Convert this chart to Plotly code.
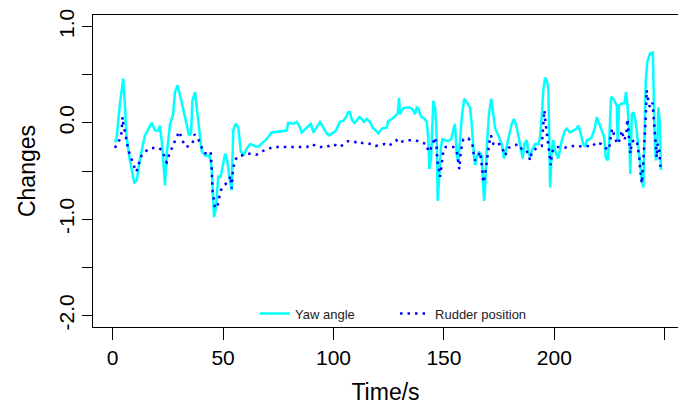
import plotly.graph_objects as go

# ---- data ----
time_yaw = [1.0, 1.6, 3.3, 4.8, 5.6, 6.3, 7.8, 9.8, 10.9, 12.4, 14.6, 16.1, 17.7, 19.2, 20.7, 21.4, 22.5, 23.7, 24.5,
            26.0, 27.4, 28.2, 29.4, 31.3, 33.5, 34.6, 35.5, 36.1, 37.3, 38.8, 40.3, 41.8, 43.8, 44.8, 45.6, 45.9,
            46.8, 47.8, 48.9, 49.8, 50.9, 51.9, 52.8, 53.9, 54.6, 55.8, 56.9, 58.0, 59.1, 60.7, 62.2, 64.4, 65.9,
            68.2, 69.7, 72.0, 78.8, 79.5, 81.8, 83.3, 84.5, 85.6, 86.6, 88.6, 89.7, 90.9, 92.1, 93.9, 95.4, 96.9,
            98.1, 99.6, 101.1, 102.9, 104.4, 105.7, 106.7, 107.5, 108.2, 109.4, 110.5, 111.7, 112.8, 113.8, 115.0,
            116.5, 117.8, 119.2, 120.3, 121.8, 124.1, 124.8, 126.4, 127.9, 129.1, 129.7, 130.1, 130.9, 131.6, 133.2,
            134.6, 136.1, 136.9, 137.7, 138.4, 139.2, 139.9, 141.4, 142.2, 142.9, 143.4, 144.2, 144.7, 145.2, 146.0,
            146.7, 147.2, 147.9, 148.7, 149.3, 150.5, 152.0, 153.2, 154.3, 155.0, 155.8, 156.5, 157.3, 158.1, 159.2,
            160.0, 160.8, 161.8, 162.6, 163.3, 164.1, 164.9, 165.9, 167.1, 167.6, 168.2, 168.6, 169.4, 170.4, 171.4,
            172.4, 173.1, 174.6, 176.2, 177.2, 178.4, 179.6, 180.7, 181.7, 183.0, 184.1, 185.2, 185.7, 186.4, 187.5,
            188.2, 189.0, 189.8, 191.3, 192.8, 193.5, 194.3, 195.0, 195.8, 196.6, 197.3, 197.7, 198.1, 198.8, 199.5,
            200.3, 201.8, 203.4, 204.8, 205.6, 207.1, 208.6, 210.1, 210.9, 211.6, 213.1, 213.9, 214.7, 215.4, 216.9,
            218.4, 219.2, 220.2, 221.5, 222.6, 223.3, 224.2, 224.8, 225.7, 226.7, 228.3, 228.7, 229.3, 230.5, 231.7,
            232.5, 233.2, 234.0, 234.4, 235.1, 235.8, 236.6, 237.3, 238.0, 238.8, 239.6, 240.3, 240.8, 241.4, 242.1,
            243.3, 244.6, 245.0, 245.3, 245.6, 246.0, 246.7, 247.1, 247.7, 248.0, 248.3]
yaw = [-0.17, -0.2, 0.2, 0.46, 0.16, -0.15, -0.39, -0.62, -0.6, -0.37, -0.13, -0.06, 0.0, -0.08, -0.08, -0.03, -0.25,
       -0.65, -0.32, -0.01, 0.09, 0.32, 0.39, 0.21, -0.01, -0.13, -0.11, 0.23, 0.32, 0.02, -0.29, -0.34, -0.34, -0.46,
       -0.81, -0.98, -0.88, -0.56, -0.56, -0.44, -0.32, -0.39, -0.56, -0.7, -0.08, -0.01, -0.05, -0.29, -0.34, -0.27,
       -0.22, -0.24, -0.25, -0.2, -0.17, -0.1, -0.08, 0.0, -0.01, 0.01, -0.03, -0.1, -0.08, -0.03, -0.01, -0.1, -0.05,
       0.01, -0.05, -0.11, -0.13, -0.1, -0.08, 0.01, 0.02, 0.06, 0.11, 0.11, 0.04, 0.0, 0.02, 0.06, 0.04, 0.01, 0.04,
       0.01, -0.05, -0.08, -0.11, -0.06, -0.05, 0.02, 0.04, 0.07, 0.1, 0.26, 0.09, 0.13, 0.15, 0.16, 0.16, 0.13, 0.09,
       0.16, 0.15, 0.09, 0.06, 0.04, 0.01, -0.15, -0.48, -0.36, 0.06, 0.23, 0.16, -0.11, -0.81, -0.53, -0.25, -0.17,
       -0.18, -0.19, -0.17, -0.08, -0.01, -0.32, -0.41, -0.18, 0.06, 0.25, 0.23, 0.2, 0.16, -0.01, -0.25, -0.44, -0.36,
       -0.3, -0.34, -0.6, -0.81, -0.7, -0.25, 0.09, 0.25, 0.09, -0.05, -0.13, -0.22, -0.37, -0.25, -0.15, -0.01, 0.04,
       -0.05, -0.18, -0.29, -0.37, -0.22, -0.18, -0.3, -0.36, -0.29, -0.22, -0.22, -0.15, 0.06, 0.34, 0.47, 0.44, 0.35,
       -0.18, -0.67, -0.29, -0.18, -0.29, -0.37, -0.18, -0.08, -0.06, -0.1, -0.08, -0.06, -0.03, -0.08, -0.22, -0.25,
       -0.18, -0.18, -0.15, -0.05, 0.06, -0.01, -0.08, -0.15, -0.36, -0.39, -0.22, 0.27, 0.25, 0.18, -0.2, 0.18, 0.2,
       0.2, 0.32, 0.16, -0.18, -0.53, 0.09, 0.11, 0.04, -0.08, -0.25, -0.46, -0.6, -0.67, -0.18, 0.44, 0.63, 0.72,
       0.73, 0.44, -0.01, -0.27, -0.39, -0.15, 0.16, 0.02, -0.36, -0.49]

time_rudder = [1.0, 3.8, 4.5, 4.8, 5.6, 6.3, 7.1, 8.3, 9.6, 10.6, 11.6, 12.5, 14.6, 17.3, 21.0, 22.9, 23.7, 24.5, 25.6,
               27.0, 28.5, 30.2, 31.3, 33.1, 34.7, 36.2, 37.0, 38.8, 39.9, 41.3, 42.6, 44.4, 44.8, 45.3, 46.3, 47.4,
               48.1, 49.0, 50.4, 52.4, 53.4, 53.9, 54.3, 55.1, 56.4, 58.4, 60.7, 63.0, 65.2, 68.2, 70.5, 72.7, 75.8,
               80.3, 84.1, 88.0, 90.1, 93.0, 97.0, 99.6, 103.0, 105.0, 106.5, 108.0, 110.0, 111.5, 113.0, 115.0, 117.0,
               119.0, 121.0, 123.0, 125.0, 127.0, 128.5, 129.4, 131.6, 133.9, 137.2, 139.2, 141.1, 142.2, 142.9, 143.7,
               145.2, 146.0, 146.7, 147.0, 147.8, 148.2, 149.0, 149.7, 150.8, 154.3, 155.8, 156.5, 157.0, 157.6, 158.8,
               161.1, 162.9, 163.3, 164.1, 165.6, 166.3, 167.4, 167.8, 168.6, 169.4, 170.6, 171.3, 172.4, 173.1, 175.1,
               176.6, 177.7, 179.2, 181.4, 183.7, 185.2, 186.7, 188.2, 189.0, 189.8, 192.8, 194.3, 195.0, 195.5, 195.8,
               196.6, 197.0, 197.7, 198.1, 198.4, 198.8, 199.5, 201.8, 204.1, 206.3, 208.6, 210.9, 213.1, 214.9, 216.9,
               219.2, 221.2, 223.0, 224.8, 225.7, 226.3, 227.2, 228.5, 229.8, 230.5, 231.7, 232.6, 233.1, 233.5, 234.0,
               234.4, 235.1, 236.2, 237.3, 238.0, 238.5, 238.8, 239.3, 239.6, 240.3, 241.1, 241.4, 241.8, 242.3, 242.9,
               243.7, 244.4, 244.8, 245.2, 245.6, 245.9, 246.4, 246.8, 247.4, 247.8, 248.1]
rudder = [-0.26, -0.15, 0.06, -0.01, -0.1, -0.18, -0.28, -0.36, -0.44, -0.51, -0.46, -0.36, -0.3, -0.26, -0.26, -0.3,
          -0.39, -0.41, -0.33, -0.25, -0.17, -0.09, -0.17, -0.25, -0.24, -0.21, -0.12, -0.17, -0.23, -0.31, -0.32, -0.3,
          -0.46, -0.72, -0.88, -0.88, -0.79, -0.7, -0.65, -0.61, -0.55, -0.68, -0.53, -0.41, -0.35, -0.34, -0.32, -0.32,
          -0.33, -0.29, -0.27, -0.25, -0.25, -0.25, -0.25, -0.25, -0.22, -0.25, -0.25, -0.22, -0.25, -0.22, -0.19,
          -0.19, -0.2, -0.19, -0.21, -0.21, -0.22, -0.24, -0.23, -0.22, -0.24, -0.2, -0.18, -0.21, -0.19, -0.18, -0.18,
          -0.2, -0.21, -0.22, -0.3, -0.29, -0.2, -0.15, -0.25, -0.39, -0.49, -0.56, -0.43, -0.3, -0.25, -0.25, -0.3,
          -0.39, -0.48, -0.3, -0.17, -0.16, -0.22, -0.3, -0.39, -0.34, -0.3, -0.48, -0.62, -0.55, -0.39, -0.2, -0.13,
          -0.22, -0.24, -0.22, -0.27, -0.34, -0.26, -0.24, -0.22, -0.27, -0.27, -0.32, -0.39, -0.3, -0.25, -0.24,
          -0.05, 0.13, 0.04, -0.11, -0.18, -0.27, -0.39, -0.44, -0.34, -0.27, -0.25, -0.26, -0.25, -0.24, -0.24,
          -0.25, -0.24, -0.25, -0.2, -0.22, -0.26, -0.28, -0.11, -0.06, -0.14, -0.22, -0.17, -0.08, -0.18, -0.11,
          0.04, -0.08, -0.22, -0.32, -0.2, -0.18, -0.18, -0.27, -0.36, -0.46, -0.56, -0.63, -0.41, -0.11, 0.06, 0.34,
          0.27, 0.18, 0.16, 0.21, 0.11, -0.01, -0.15, -0.29, -0.36, -0.22, -0.25, -0.39, -0.46]

x_ticks = [0, 50, 100, 150, 200, 250]
y_ticks = [-2.0, -1.5, -1.0, -0.5, 0.0, 0.5, 1.0]
y_tick_text = ["-2.0", "", "-1.0", "", "0.0", "", "1.0"]

FONT = "Liberation Sans, Arial, sans-serif"

fig = go.Figure()
fig.add_trace(go.Scatter(x=time_yaw, y=yaw, mode="lines", name="Yaw angle",
                         line=dict(color="#00FFFF", width=2.5)))
fig.add_trace(go.Scatter(x=time_rudder, y=rudder, mode="lines", name="Rudder position",
                         line=dict(color="#0000FF", width=2.5, dash="2.5px,5px")))

fig.update_layout(
    width=678, height=405,
    margin=dict(l=93, r=0, t=15, b=78),
    paper_bgcolor="white", plot_bgcolor="white",
    font=dict(family=FONT, color="black"),
    showlegend=True,
    legend=dict(orientation="h", x=0.277, xanchor="left", y=-0.005, yanchor="bottom",
                font=dict(size=13, family=FONT, color="#222"),
                bgcolor="rgba(0,0,0,0)", entrywidth=95, entrywidthmode="pixels"),
    xaxis=dict(range=[-8.9, 256.0], tickmode="array", tickvals=x_ticks,
               ticks="outside", ticklen=12, tickwidth=1, tickcolor="black",
               showline=True, mirror=True, linecolor="black", linewidth=1,
               showgrid=False, zeroline=False,
               tickfont=dict(size=21, family=FONT, color="black"),
               title=dict(text="Time/s", font=dict(size=23, family=FONT, color="black"), standoff=15)),
    yaxis=dict(range=[-2.12, 1.12], tickmode="array", tickvals=y_ticks, ticktext=y_tick_text,
               ticks="outside", ticklen=10, tickwidth=1, tickcolor="black", tickangle=-90,
               showline=True, mirror=False, linecolor="black", linewidth=1,
               showgrid=False, zeroline=False,
               tickfont=dict(size=21, family=FONT, color="black"),
               title=dict(text="Changes", font=dict(size=23, family=FONT, color="black"), standoff=12)),
)

fig.write_html("out.html")
